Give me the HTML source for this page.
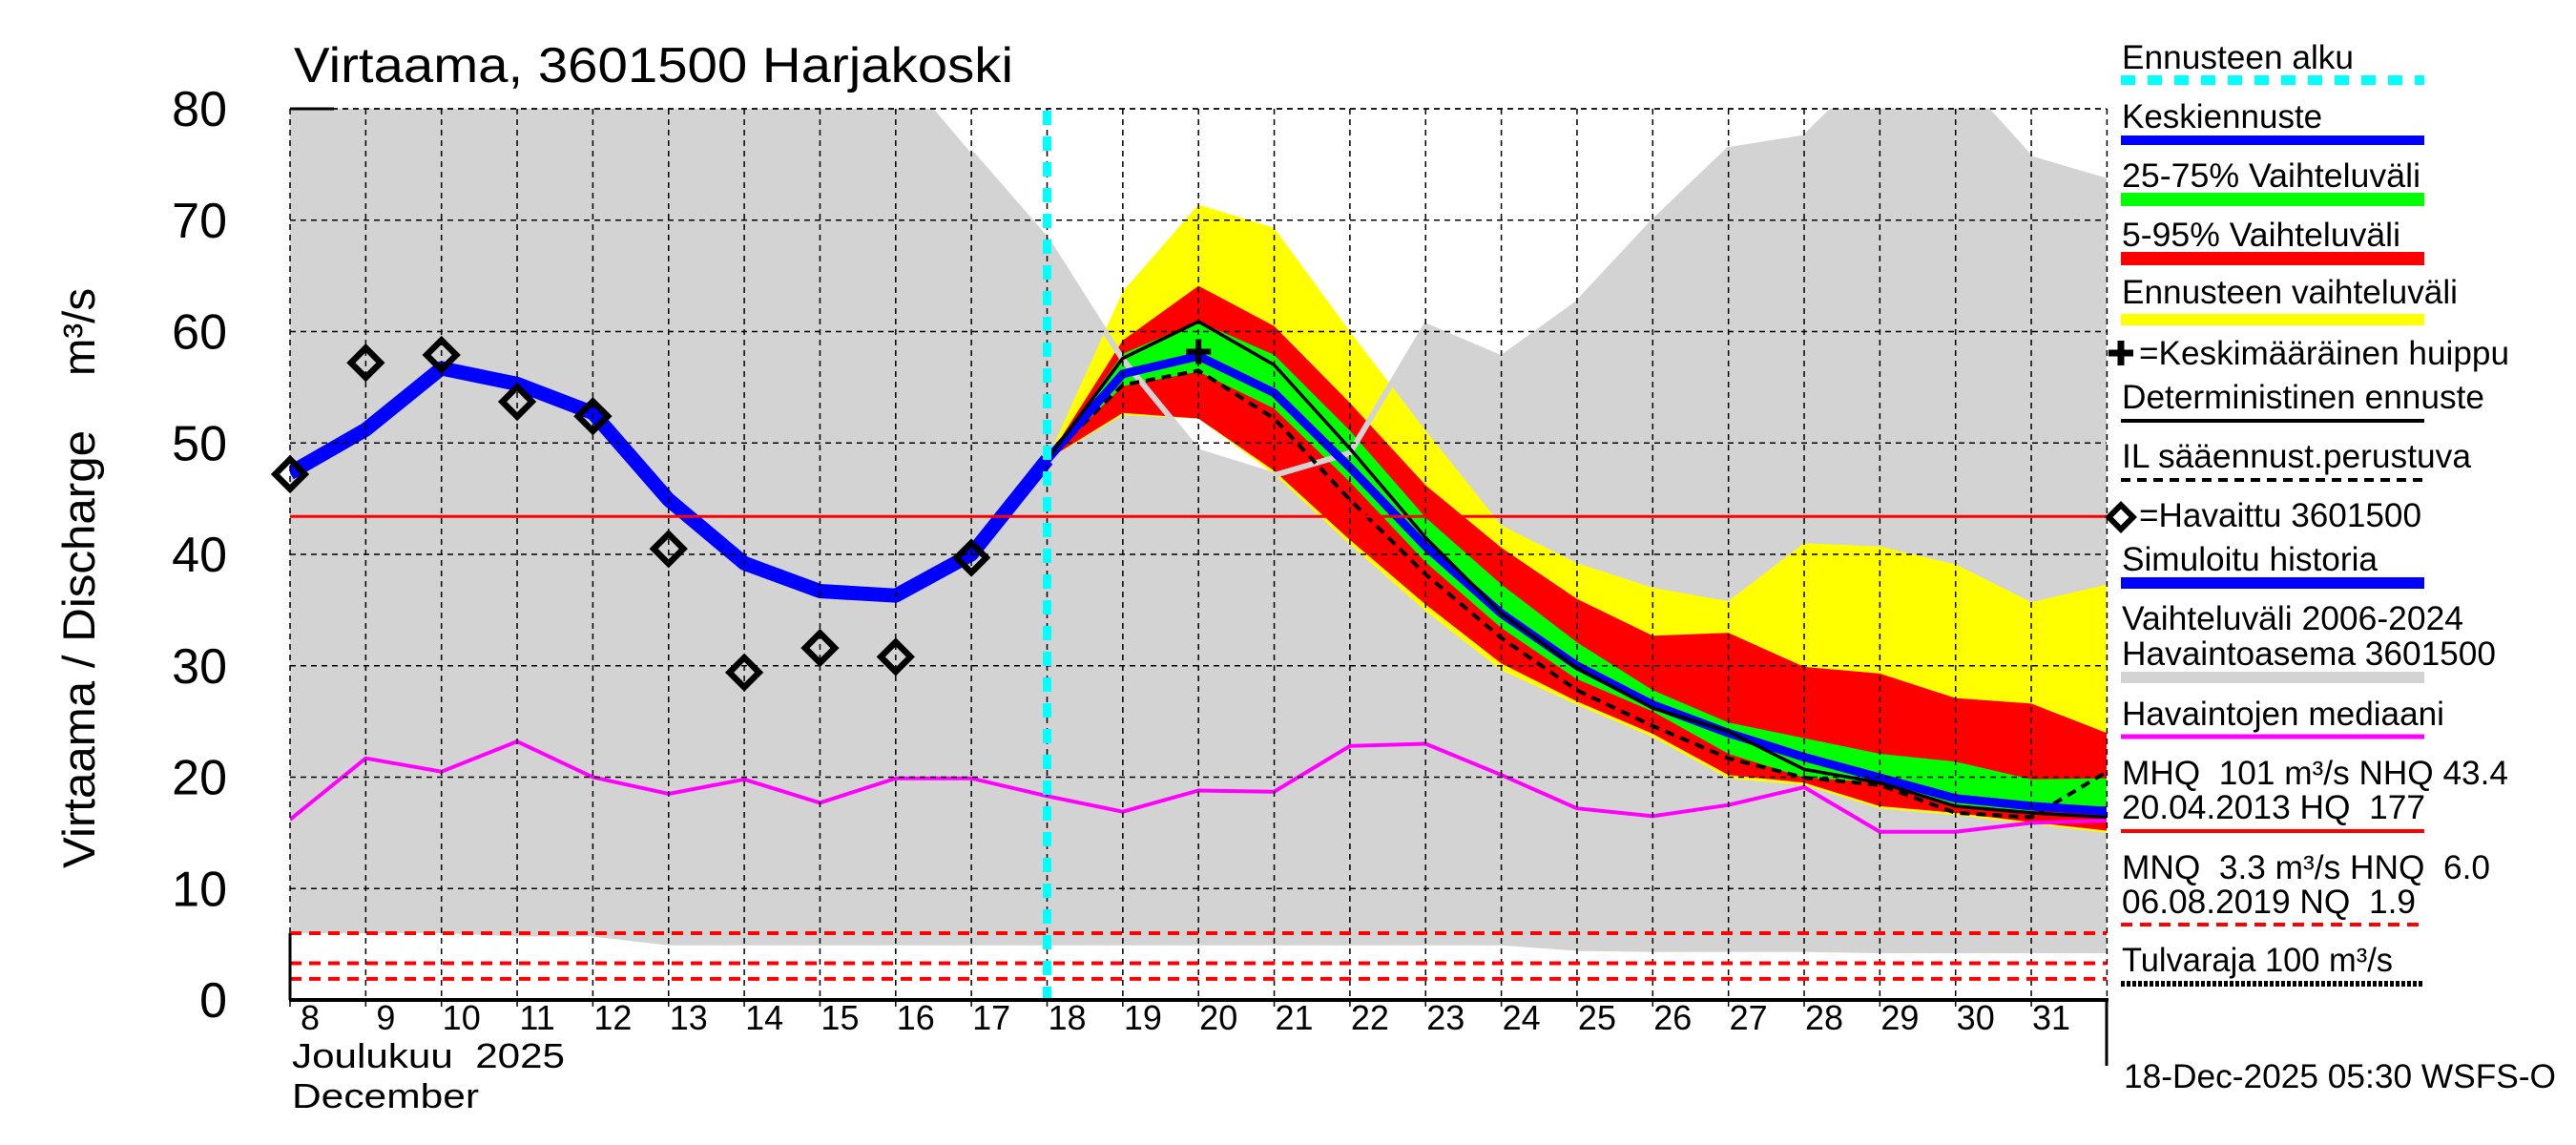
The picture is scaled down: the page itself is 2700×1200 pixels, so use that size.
<!DOCTYPE html>
<html><head><meta charset="utf-8">
<style>
html,body{margin:0;padding:0;background:#fff;}
svg{display:block;font-family:"Liberation Sans",sans-serif;}
text{white-space:pre;}
</style></head>
<body>
<svg id="chart" width="2700" height="1200" viewBox="0 0 2700 1200" xmlns="http://www.w3.org/2000/svg" xml:space="preserve">
<rect width="2700" height="1200" fill="#fff"/>
<g id="plot"></g>
<text x="308" y="86" font-size="52" textLength="754" lengthAdjust="spacingAndGlyphs">Virtaama, 3601500 Harjakoski</text>
<text transform="translate(99,910) rotate(-90)" font-size="47" textLength="459" lengthAdjust="spacingAndGlyphs">Virtaama / Discharge</text>
<text transform="translate(99,394) rotate(-90)" font-size="47" textLength="92" lengthAdjust="spacingAndGlyphs">m³/s</text>
<g id="yticks"></g>
<g id="xticks"></g>
<text x="306" y="1119" font-size="36" textLength="286" lengthAdjust="spacingAndGlyphs">Joulukuu  2025</text>
<text x="306" y="1161" font-size="36" textLength="196" lengthAdjust="spacingAndGlyphs">December</text>
<g id="legend" font-size="35">
<text x="2224" y="72" textLength="243" lengthAdjust="spacingAndGlyphs">Ennusteen alku</text>
<line x1="2223" y1="84" x2="2541" y2="84" stroke="#00ffff" stroke-width="10" stroke-dasharray="15 13"/>
<text x="2224" y="134">Keskiennuste</text>
<line x1="2223" y1="147" x2="2541" y2="147" stroke="#0000ff" stroke-width="10"/>
<text x="2224" y="196" textLength="313" lengthAdjust="spacingAndGlyphs">25-75% Vaihteluväli</text>
<line x1="2223" y1="209" x2="2541" y2="209" stroke="#00ff00" stroke-width="14"/>
<text x="2224" y="258" textLength="292" lengthAdjust="spacingAndGlyphs">5-95% Vaihteluväli</text>
<line x1="2223" y1="271" x2="2541" y2="271" stroke="#ff0000" stroke-width="14"/>
<text x="2224" y="318" textLength="352" lengthAdjust="spacingAndGlyphs">Ennusteen vaihteluväli</text>
<line x1="2223" y1="335" x2="2541" y2="335" stroke="#ffff00" stroke-width="12"/>
<path d="M2210 370 H2236 M2223 357 V383" stroke="#000" stroke-width="7"/>
<text x="2242" y="382" textLength="388" lengthAdjust="spacingAndGlyphs">=Keskimääräinen huippu</text>
<text x="2224" y="428" textLength="380" lengthAdjust="spacingAndGlyphs">Deterministinen ennuste</text>
<line x1="2223" y1="441" x2="2541" y2="441" stroke="#000" stroke-width="4"/>
<text x="2224" y="490" textLength="366" lengthAdjust="spacingAndGlyphs">IL sääennust.perustuva</text>
<line x1="2223" y1="503" x2="2541" y2="503" stroke="#000" stroke-width="4" stroke-dasharray="10 7"/>
<rect x="2214" y="533" width="18" height="18" transform="rotate(45 2223 542)" fill="#fff" stroke="#000" stroke-width="6"/>
<text x="2242" y="552" textLength="296" lengthAdjust="spacingAndGlyphs">=Havaittu 3601500</text>
<text x="2224" y="598" textLength="268" lengthAdjust="spacingAndGlyphs">Simuloitu historia</text>
<line x1="2223" y1="611" x2="2541" y2="611" stroke="#0000ff" stroke-width="12"/>
<text x="2224" y="660" textLength="358" lengthAdjust="spacingAndGlyphs">Vaihteluväli 2006-2024</text>
<text x="2224" y="697" textLength="392" lengthAdjust="spacingAndGlyphs">Havaintoasema 3601500</text>
<line x1="2223" y1="710" x2="2541" y2="710" stroke="#d3d3d3" stroke-width="12"/>
<text x="2224" y="760" textLength="338" lengthAdjust="spacingAndGlyphs">Havaintojen mediaani</text>
<line x1="2223" y1="772" x2="2541" y2="772" stroke="#ff00ff" stroke-width="5"/>
<text x="2224" y="822" textLength="405" lengthAdjust="spacingAndGlyphs">MHQ  101 m³/s NHQ 43.4</text>
<text x="2224" y="858" textLength="318" lengthAdjust="spacingAndGlyphs">20.04.2013 HQ  177</text>
<line x1="2223" y1="871" x2="2541" y2="871" stroke="#ff0000" stroke-width="4"/>
<text x="2224" y="921" textLength="386" lengthAdjust="spacingAndGlyphs">MNQ  3.3 m³/s HNQ  6.0</text>
<text x="2224" y="957" textLength="308" lengthAdjust="spacingAndGlyphs">06.08.2019 NQ  1.9</text>
<line x1="2223" y1="969" x2="2541" y2="969" stroke="#ff0000" stroke-width="4" stroke-dasharray="12 8"/>
<text x="2224" y="1018" textLength="284" lengthAdjust="spacingAndGlyphs">Tulvaraja 100 m³/s</text>
<line x1="2223" y1="1031" x2="2541" y2="1031" stroke="#000" stroke-width="6" stroke-dasharray="4 2"/>
</g>
<text x="2226" y="1140" font-size="35" textLength="453" lengthAdjust="spacingAndGlyphs">18-Dec-2025 05:30 WSFS-O</text>
</svg>
<script>
const histDays = [8,9,10,11,12,13,14,15,16,17,18];
const simulated = [47.3,51.2,56.7,55.3,52.7,44.9,39.2,36.7,36.3,40.0,48.5];
const obsDays = [8,9,10,11,12,13,14,15,16,17];
const observed = [47.2,57.2,57.9,53.7,52.4,40.5,29.4,31.6,30.8,39.7];
const medDays = [8,9,10,11,12,13,14,15,16,17,18,19,20,21,22,23,24,25,26,27,28,29,30,31,32];
const median = [16.2,21.7,20.5,23.2,20.0,18.5,19.8,17.7,19.9,19.9,18.3,16.9,18.8,18.7,22.8,23.0,20.2,17.2,16.5,17.5,19.1,15.1,15.1,15.9,16.1];
const rangeDays = [8,9,10,11,12,13,14,15,16,17,18,19,20,21,22,23,24,25,26,27,28,29,30,31,32];
const rangeHigh = [90,90,90,90,90,90,90,90,84,76,68.2,57.5,49.2,47.1,49.1,60.5,57.6,62.5,69.8,76.3,77.4,84,83,75.5,73.5];
const rangeLow = [6.0,6.0,6.0,5.7,5.7,4.9,4.9,4.9,4.9,4.9,4.9,4.9,4.9,4.9,4.9,4.9,4.9,4.4,4.3,4.3,4.3,4.2,4.2,4.2,4.2];
const fcDays = [18,19,20,21,22,23,24,25,26,27,28,29,30,31,32];
const yellowHigh = [48.5,63.6,71.4,69.3,60.0,51.1,42.6,39.2,37.0,35.8,41.0,40.7,39.1,35.7,37.3];
const yellowLow = [48.5,52.5,52.2,47.2,40.9,34.9,29.6,26.5,23.6,19.9,19.3,17.2,16.6,15.8,15.0];
const redHigh = [48.5,59.2,64.1,60.5,53.6,46.2,40.6,36.0,32.7,32.95,29.9,29.3,27.1,26.6,23.96];
const redLow = [48.5,52.7,52.2,47.5,41.3,35.5,30.2,26.8,23.9,20.2,19.5,17.4,16.8,15.96,15.2];
const greenHigh = [48.5,58.0,60.9,57.9,51.1,43.3,37.3,32.1,27.8,24.9,23.5,22.1,21.4,19.8,19.9];
const greenLow = [48.5,55.1,56.4,53.1,46.5,39.3,33.4,28.8,25.9,22.1,19.96,19.5,17.5,16.95,17.4];
const meanFc = [48.5,56.2,57.8,54.5,47.8,40.7,34.7,30.0,26.5,23.96,21.8,19.96,18.1,17.4,16.95];
const deterministic = [48.5,57.6,60.9,57.0,49.5,41.5,34.7,29.8,26.2,24.1,20.7,19.5,17.4,16.8,16.4];
const ilForecast = [48.5,55.2,56.5,52.2,44.9,38.2,32.5,27.8,24.6,21.7,19.96,19.3,16.8,16.4,20.5];
const peakDay = [20];
const peakValue = [58.2];
const yTicks = [0,10,20,30,40,50,60,70,80];
const xTickDays = [8,9,10,11,12,13,14,15,16,17,18,19,20,21,22,23,24,25,26,27,28,29,30,31];
const refLevels = [6.0,3.3,1.9];
const nhq = [43.4];
const forecastStart = [18];

const X0=304, DX=79.35, Y0=1048, DY=11.675, XR=2208, YT=114;
const xs = d => X0 + (d-8)*DX;
const ys = v => Y0 - v*DY;
const NS='http://www.w3.org/2000/svg';
const plot=document.getElementById('plot');
function mk(tag, parent, attrs){const e=document.createElementNS(NS,tag);for(const k in attrs)e.setAttribute(k,attrs[k]);parent.appendChild(e);return e;}
function pts(days, vals){return days.map((d,i)=>xs(d).toFixed(1)+','+ys(vals[i]).toFixed(1)).join(' ');}
function band(days, hi, lo){return pts(days,hi)+' '+pts(days.slice().reverse(),lo.slice().reverse());}

const clip=mk('clipPath',mk('defs',plot,{}),{id:'pc'});
mk('rect',clip,{x:X0,y:YT,width:XR-X0,height:Y0-YT});
const g=mk('g',plot,{'clip-path':'url(#pc)'});

let e;
e=mk('polygon',g,{points:band(rangeDays,rangeHigh,rangeLow),fill:'#d3d3d3'});


e=mk('polygon',g,{points:band(fcDays,yellowHigh,yellowLow),fill:'#ffff00'});


e=mk('polygon',g,{points:band(fcDays,redHigh,redLow),fill:'#ff0000'});


e=mk('polygon',g,{points:band(fcDays,greenHigh,greenLow),fill:'#00ff00'});


e=mk('polyline',g,{points:pts(rangeDays.slice(9),rangeHigh.slice(9)),fill:'none',stroke:'#d3d3d3','stroke-width':6});



yTicks.forEach(v=>{
  if(v===0) return;
  e=mk('line',plot,{x1:X0,x2:XR,y1:ys(v),y2:ys(v),stroke:'#000','stroke-width':1.5,'stroke-dasharray':'6 5'});
  
  
});
xTickDays.concat([32]).forEach(d=>{
  e=mk('line',plot,{x1:xs(d),x2:xs(d),y1:YT,y2:Y0+8,stroke:'#000','stroke-width':1.5,'stroke-dasharray':'6 5'});
  
  
});

e=mk('line',plot,{x1:X0,x2:XR,y1:ys(nhq[0]),y2:ys(nhq[0]),stroke:'#ff0000','stroke-width':3});


refLevels.forEach(v=>{
  e=mk('line',plot,{x1:X0,x2:XR,y1:ys(v),y2:ys(v),stroke:'#ff0000','stroke-width':4,'stroke-dasharray':'12 8'});
  
  
});

e=mk('polyline',g,{points:pts(medDays,median),fill:'none',stroke:'#ff00ff','stroke-width':4});



e=mk('polyline',g,{points:pts(fcDays,ilForecast),fill:'none',stroke:'#000','stroke-width':4,'stroke-dasharray':'10 7'});


e=mk('polyline',g,{points:pts(fcDays,meanFc),fill:'none',stroke:'#0000ff','stroke-width':9});


e=mk('polyline',g,{points:pts(fcDays,deterministic),fill:'none',stroke:'#000','stroke-width':3.5});



e=mk('polyline',g,{points:pts(histDays,simulated),fill:'none',stroke:'#0000ff','stroke-width':15,'stroke-linejoin':'round'});



obsDays.forEach((d,i)=>{
  const cx=xs(d), cy=ys(observed[i]);
  e=mk('rect',plot,{x:cx-11,y:cy-11,width:22,height:22,transform:`rotate(45 ${cx} ${cy})`,fill:'none',stroke:'#000','stroke-width':6.5});
  
  
});

peakDay.forEach((d,i)=>{
  const cx=xs(d), cy=ys(peakValue[i]);
  e=mk('path',plot,{d:`M${cx-13} ${cy} H${cx+13} M${cx} ${cy-13} V${cy+13}`,stroke:'#000','stroke-width':6});
  
  
});

e=mk('line',plot,{x1:xs(forecastStart[0]),x2:xs(forecastStart[0]),y1:YT+2,y2:Y0,stroke:'#00ffff','stroke-width':9,'stroke-dasharray':'15 12'});



e=mk('line',plot,{x1:X0,x2:XR,y1:YT,y2:YT,stroke:'#000','stroke-width':1.5,'stroke-dasharray':'6 5'});


e=mk('line',plot,{x1:X0,x2:X0+46,y1:YT,y2:YT,stroke:'#000','stroke-width':3});


e=mk('line',plot,{x1:X0-1,x2:XR+2,y1:Y0,y2:Y0,stroke:'#000','stroke-width':4});


e=mk('line',plot,{x1:X0,x2:X0,y1:ys(6),y2:Y0,stroke:'#000','stroke-width':3});


e=mk('line',plot,{x1:XR,x2:XR,y1:Y0,y2:1117,stroke:'#000','stroke-width':3});



const yt=document.getElementById('yticks');
yTicks.forEach(v=>{
  e=mk('text',yt,{x:238,y:ys(v)+18,'font-size':52,'text-anchor':'end'});
  e.textContent=String(v);
  
  
});
const xt=document.getElementById('xticks');
xTickDays.forEach(d=>{
  e=mk('text',xt,{x:xs(d)+21,y:1079,'font-size':36,'text-anchor':'middle'});
  e.textContent=String(d);
  
  
});
</script>
</body></html>
